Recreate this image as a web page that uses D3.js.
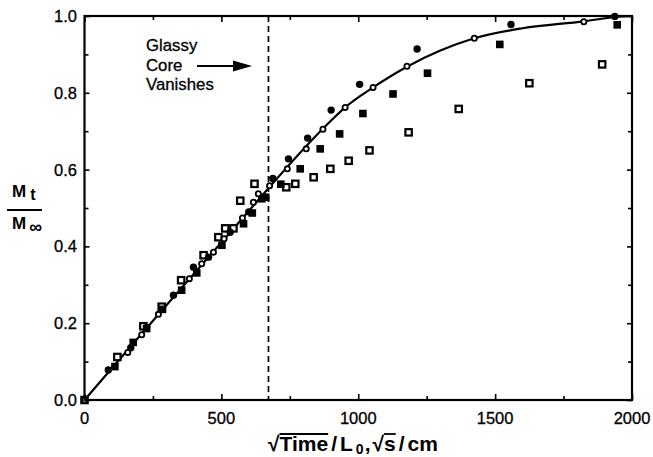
<!DOCTYPE html>
<html><head><meta charset="utf-8">
<script src="https://cdn.jsdelivr.net/npm/d3@7"></script>
<style>body{margin:0;background:#fff}svg{display:block}</style>
</head><body>
<svg id="c" width="653" height="457"></svg>
<script>
// ---- data ----
const xTickValues = [0, 500, 1000, 1500, 2000];
const yTickValues = [0, 0.2, 0.4, 0.6, 0.8, 1.0];
const xMinorTicks = [250, 750, 1250, 1750];
const yMinorTicks = [0.1, 0.3, 0.5, 0.7, 0.9];
const glassyCoreX = 672;
const annotationLines = ["Glassy", "Core", "Vanishes"];

// fitted curve (solid line)
const fitX = [0, 500, 900, 952, 1054, 1178, 1300, 1424, 1600, 1824, 1950, 2000];
const fitY = [0, 0.41, 0.727, 0.762, 0.814, 0.868, 0.910, 0.942, 0.968, 0.986, 0.998, 1.0];

// open circles
const openCircleX = [0, 158, 209, 270, 383, 428, 471, 510, 577, 617, 635, 676, 741, 810, 871, 952, 1054, 1178, 1424, 1824];
const openCircleY = [0, 0.124, 0.170, 0.223, 0.316, 0.355, 0.385, 0.420, 0.474, 0.515, 0.537, 0.558, 0.602, 0.654, 0.705, 0.762, 0.814, 0.869, 0.942, 0.985];

// filled circles
const filledCircleX = [87, 169, 227, 325, 398, 453, 532, 600, 688, 745, 815, 901, 1005, 1215, 1558, 1937];
const filledCircleY = [0.078, 0.136, 0.189, 0.273, 0.346, 0.372, 0.437, 0.490, 0.577, 0.628, 0.682, 0.755, 0.822, 0.914, 0.978, 0.999];

// filled squares
const filledSquareX = [111, 178, 227, 285, 355, 410, 502, 581, 613, 648, 662, 717, 788, 861, 932, 1017, 1127, 1253, 1517, 1946];
const filledSquareY = [0.087, 0.150, 0.186, 0.236, 0.286, 0.331, 0.403, 0.459, 0.487, 0.524, 0.528, 0.562, 0.602, 0.654, 0.693, 0.746, 0.797, 0.851, 0.926, 0.977];

// open squares
const openSquareX = [0, 120, 215, 282, 353, 435, 489, 514, 544, 569, 621, 737, 770, 837, 898, 965, 1041, 1184, 1367, 1625, 1891];
const openSquareY = [0, 0.112, 0.192, 0.243, 0.312, 0.377, 0.424, 0.447, 0.447, 0.519, 0.563, 0.554, 0.563, 0.580, 0.602, 0.623, 0.650, 0.697, 0.758, 0.825, 0.874];

// ---- layout ----
const svg = d3.select("#c");
const L = 84.5, R = 632, T = 16, B = 400;
const x = d3.scaleLinear().domain([0, 2000]).range([L, R]);
const y = d3.scaleLinear().domain([0, 1]).range([B, T]);
const font = "'Liberation Sans', Arial, Helvetica, sans-serif";
const zip = (a, b) => a.map((v, i) => [v, b[i]]);

// ticks (inside, on all four sides)
const g = svg.append("g");
function tickAxis(axisGen, tx, ty, vals, len) {
  const a = g.append("g").attr("transform", `translate(${tx},${ty})`)
    .call(axisGen.tickValues(vals).tickSize(len).tickFormat(""));
  a.select(".domain").remove();
  a.selectAll("line").attr("stroke", "#000").attr("stroke-width", 1.6);
}
tickAxis(d3.axisBottom(x), 0, B, xTickValues, -6);
tickAxis(d3.axisBottom(x), 0, B, xMinorTicks, -4);
tickAxis(d3.axisTop(x), 0, T, xTickValues, -6);
tickAxis(d3.axisTop(x), 0, T, xMinorTicks, -4);
tickAxis(d3.axisLeft(y), L, 0, yTickValues, -5);
tickAxis(d3.axisLeft(y), L, 0, yMinorTicks, -4);
tickAxis(d3.axisRight(y), R, 0, yTickValues, -5);
tickAxis(d3.axisRight(y), R, 0, yMinorTicks, -4);

// tick labels
svg.append("g").selectAll("text").data(xTickValues).join("text")
  .attr("x", d => x(d)).attr("y", 424).attr("text-anchor", "middle")
  .attr("font-family", font).attr("font-size", 16.5).attr("stroke", "#000").attr("stroke-width", 0.3).text(d => d);
svg.append("g").selectAll("text").data(yTickValues).join("text")
  .attr("x", 77).attr("y", d => y(d)).attr("dy", "0.36em").attr("text-anchor", "end")
  .attr("font-family", font).attr("font-size", 16.5).attr("stroke", "#000").attr("stroke-width", 0.3).text(d => d.toFixed(1));

// dashed line
svg.append("line").attr("x1", x(glassyCoreX)).attr("x2", x(glassyCoreX))
  .attr("y1", T).attr("y2", B).attr("stroke", "#000").attr("stroke-width", 1.7)
  .attr("stroke-dasharray", "6,4");

// fit line
svg.append("path").datum(zip(fitX, fitY))
  .attr("d", d3.line().x(d => x(d[0])).y(d => y(d[1])).curve(d3.curveMonotoneX))
  .attr("fill", "none").attr("stroke", "#000").attr("stroke-width", 2.2);

// markers
svg.append("g").selectAll("rect").data(zip(openSquareX, openSquareY)).join("rect")
  .attr("x", d => x(d[0]) - 3.2).attr("y", d => y(d[1]) - 3.2).attr("width", 6.4).attr("height", 6.4)
  .attr("fill", "#fff").attr("stroke", "#000").attr("stroke-width", 2.2);
svg.append("g").selectAll("rect").data(zip(filledSquareX, filledSquareY)).join("rect")
  .attr("x", d => x(d[0]) - 3.8).attr("y", d => y(d[1]) - 3.8).attr("width", 7.6).attr("height", 7.6)
  .attr("fill", "#000");
svg.append("g").selectAll("circle").data(zip(filledCircleX, filledCircleY)).join("circle")
  .attr("cx", d => x(d[0])).attr("cy", d => y(d[1])).attr("r", 3.7).attr("fill", "#000");
svg.append("g").selectAll("circle").data(zip(openCircleX, openCircleY)).join("circle")
  .attr("cx", d => x(d[0])).attr("cy", d => y(d[1])).attr("r", 2.6)
  .attr("fill", "#fff").attr("stroke", "#000").attr("stroke-width", 1.8);

// frame
svg.append("rect").attr("x", L).attr("y", T).attr("width", R - L).attr("height", B - T)
  .attr("fill", "none").attr("stroke", "#000").attr("stroke-width", 2.2);

// annotation
svg.append("g").selectAll("text").data(annotationLines).join("text")
  .attr("x", 146).attr("y", (d, i) => 51 + i * 19.5)
  .attr("font-family", font).attr("font-size", 16.8).attr("stroke", "#000").attr("stroke-width", 0.3).text(d => d);
svg.append("line").attr("x1", 197).attr("x2", 236).attr("y1", 66).attr("y2", 66)
  .attr("stroke", "#000").attr("stroke-width", 2);
svg.append("path").attr("d", "M233,60.5 L252,66 L233,71.5 Z").attr("fill", "#000");

// y-axis label: M_t / M_inf
const yl = svg.append("g").attr("font-family", font).attr("font-weight", "bold");
yl.append("text").attr("x", 12).attr("y", 197).attr("font-size", 17)
  .text("M").append("tspan").attr("dx", 4).attr("dy", 3).attr("font-size", 16).text("t");
yl.append("line").attr("x1", 7).attr("x2", 42).attr("y1", 210).attr("y2", 210)
  .attr("stroke", "#000").attr("stroke-width", 2);
yl.append("text").attr("x", 12).attr("y", 229).attr("font-size", 17)
  .text("M").append("tspan").attr("dx", 3).attr("dy", 4).attr("font-size", 18).text("∞");

// x-axis label
const xl = svg.append("text").attr("x", 268).attr("y", 451)
  .attr("font-family", font).attr("font-weight", "bold").attr("font-size", 21);
xl.append("tspan").text("√Time");
xl.append("tspan").attr("dx", 3).text("/");
xl.append("tspan").attr("dx", 3).text("L");
xl.append("tspan").attr("font-size", 14).attr("dy", 3).attr("dx", 3).text("0");
xl.append("tspan").attr("dy", -3).attr("dx", 1).text(",");
xl.append("tspan").attr("dx", 2).text("√s");
xl.append("tspan").attr("dx", 3).text("/");
xl.append("tspan").attr("dx", 3).text("cm");
const xn = xl.node();
function over(i0, i1) {
  const a = xn.getStartPositionOfChar(i0).x, b = xn.getEndPositionOfChar(i1).x;
  svg.append("line").attr("x1", a).attr("x2", b).attr("y1", 434).attr("y2", 434)
    .attr("stroke", "#000").attr("stroke-width", 1.8);
}
over(1, 4);
over(10, 10);
</script>
</body></html>
